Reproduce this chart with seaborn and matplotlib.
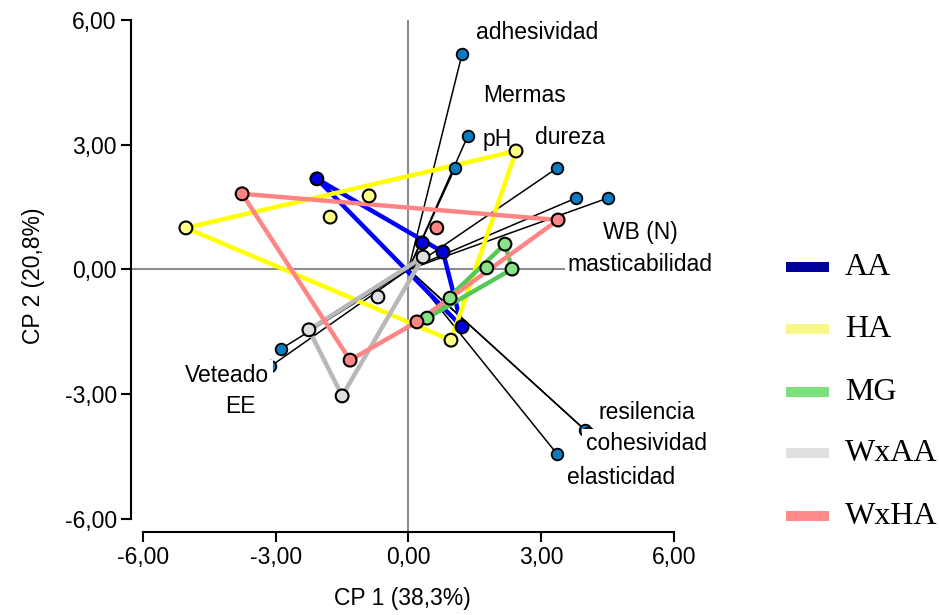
import numpy as np
import pandas as pd
import matplotlib
matplotlib.use("Agg")
import matplotlib.pyplot as plt
from matplotlib.lines import Line2D
import seaborn as sns

# ---------------- data ----------------
groups = ["AA", "HA", "MG", "WxAA", "WxHA"]

aa_x = [-2.07, 0.31, 0.78, 1.21]
aa_y = [2.18, 0.64, 0.42, -1.38]
ha_x = [-5.03, 2.43, 0.96, -1.77, -0.89]
ha_y = [1.00, 2.85, -1.70, 1.26, 1.77]
mg_x = [2.18, 2.34, 1.77, 0.94, 0.42]
mg_y = [0.61, 0.01, 0.04, -0.69, -1.17]
wxaa_x = [0.33, -2.25, -1.50, -0.69]
wxaa_y = [0.30, -1.45, -3.04, -0.66]
wxha_x = [-3.76, 3.38, -1.32, 0.64, 0.19]
wxha_y = [1.82, 1.19, -2.18, 1.00, -1.26]

var_names = ["adhesividad", "Mermas", "pH", "dureza", "WB (N)", "masticabilidad",
             "resilencia", "cohesividad", "elasticidad", "Veteado", "EE"]
var_x = [1.21, 1.34, 1.05, 3.36, 3.79, 4.51, 3.99, 4.06, 3.36, -2.88, -3.12]
var_y = [5.18, 3.21, 2.44, 2.44, 1.72, 1.72, -3.86, -3.93, -4.44, -1.91, -2.33]

tick_values = [-6, -3, 0, 3, 6]
tick_labels = ["-6,00", "-3,00", "0,00", "3,00", "6,00"]
x_title = "CP 1 (38,3%)"
y_title = "CP 2 (20,8%)"

# ---------------- layout / style ----------------
label_pos = {
    "adhesividad": (2.90, 5.71), "Mermas": (2.63, 4.19), "pH": (2.00, 3.13),
    "dureza": (3.65, 3.18), "WB (N)": (5.23, 0.88), "masticabilidad": (5.23, 0.11),
    "resilencia": (5.39, -3.45), "cohesividad": (5.37, -4.19),
    "elasticidad": (4.80, -5.00), "Veteado": (-4.10, -2.54), "EE": (-3.81, -3.30),
}
label_pad = {"Veteado": 2.5, "cohesividad": 2.5, "masticabilidad": 1.5}
line_colors = {"AA": "#0000ff", "HA": "#ffff00", "MG": "#55c855",
               "WxAA": "#b8b8b8", "WxHA": "#ff8484"}
fill_colors = {"AA": "#0000e0", "HA": "#ffff88", "MG": "#88e288",
               "WxAA": "#e0e0e0", "WxHA": "#ff8484"}
legend_colors = {"AA": "#00009c", "HA": "#f7f78a", "MG": "#7be27b",
                 "WxAA": "#e0e0e0", "WxHA": "#ff8a8a"}
loading_color = "#0a7bc0"

sns.set_style("ticks")
plt.rcParams["font.family"] = ["Liberation Sans", "DejaVu Sans"]
plt.rcParams["text.color"] = "black"
plt.rcParams["axes.labelcolor"] = "black"
plt.rcParams["xtick.color"] = "black"
plt.rcParams["ytick.color"] = "black"

group_x = [aa_x, ha_x, mg_x, wxaa_x, wxha_x]
group_y = [aa_y, ha_y, mg_y, wxaa_y, wxha_y]

pts = pd.DataFrame({
    "x": np.concatenate(group_x),
    "y": np.concatenate(group_y),
    "group": np.repeat(groups, [len(v) for v in group_x]),
})


def convex_hull(xs, ys):
    p = sorted(zip(xs, ys))

    def cross(o, a, b):
        return (a[0] - o[0]) * (b[1] - o[1]) - (a[1] - o[1]) * (b[0] - o[0])

    lower, upper = [], []
    for q in p:
        while len(lower) >= 2 and cross(lower[-2], lower[-1], q) <= 0:
            lower.pop()
        lower.append(q)
    for q in reversed(p):
        while len(upper) >= 2 and cross(upper[-2], upper[-1], q) <= 0:
            upper.pop()
        upper.append(q)
    h = lower[:-1] + upper[:-1]
    return h + [h[0]]


hull_rows = []
for g, gx, gy in zip(groups, group_x, group_y):
    for i, (hx, hy) in enumerate(convex_hull(gx, gy)):
        hull_rows.append({"x": hx, "y": hy, "group": g, "order": i})
hull = pd.DataFrame(hull_rows)

seg_rows = []
for n, vx, vy in zip(var_names, var_x, var_y):
    seg_rows.append({"x": 0.0, "y": 0.0, "var": n})
    seg_rows.append({"x": vx, "y": vy, "var": n})
segs = pd.DataFrame(seg_rows)
loads = pd.DataFrame({"x": var_x, "y": var_y, "var": var_names})

W, H = 939, 615
fig = plt.figure(figsize=(W / 100, H / 100), dpi=100)
ax = fig.add_axes([131 / W, 83 / H, 543 / W, 512 / H])

ax.axhline(0, color="#8c8c8c", lw=1.5, zorder=1)
ax.axvline(0, color="#8c8c8c", lw=1.5, zorder=1)

# loading vectors
sns.lineplot(data=segs, x="x", y="y", units="var", estimator=None, sort=False,
             color="black", lw=1.1, ax=ax, legend=False, zorder=2)

# group hulls
for g in groups:
    sns.lineplot(data=hull[hull.group == g], x="x", y="y", estimator=None,
                 sort=False, color=line_colors[g], lw=3.2, ax=ax,
                 legend=False, zorder=3)

# loading points
sns.scatterplot(data=loads, x="x", y="y", color=loading_color, s=70,
                edgecolor="black", linewidth=1.3, ax=ax, legend=False,
                zorder=4, clip_on=False)

# group points
sns.scatterplot(data=pts, x="x", y="y", hue="group", palette=fill_colors,
                s=85, edgecolor="black", linewidth=1.5, ax=ax, legend=False,
                zorder=4, clip_on=False)

for n in var_names:
    lx, ly = label_pos[n]
    kw = {}
    if n in label_pad:
        kw["bbox"] = dict(facecolor="white", edgecolor="none", pad=label_pad[n])
    ax.text(lx, ly, n, ha="center", va="center", fontsize=16.5, zorder=6, **kw)

ax.set_xlim(-6.271, 6)
ax.set_ylim(-6.313, 6)
ax.set_xticks(tick_values)
ax.set_xticklabels(tick_labels)
ax.set_yticks(tick_values)
ax.set_yticklabels(tick_labels)
ax.tick_params(axis="both", labelsize=16.5, length=7.2, width=1.5,
               color="black", labelcolor="black", pad=3)
for side in ["top", "right"]:
    ax.spines[side].set_visible(False)
for side in ["left", "bottom"]:
    ax.spines[side].set_linewidth(1.5)
    ax.spines[side].set_color("black")
    ax.spines[side].set_bounds(-6, 6)
ax.set_xlabel(x_title, fontsize=16.5, labelpad=13, color="black")
ax.set_ylabel(y_title, fontsize=16.5, labelpad=14, color="black")
ax.patch.set_alpha(0)

# legend
leg_y = [267, 329, 392, 453, 516]
for g, yy in zip(groups, leg_y):
    fig.add_artist(Line2D([786 / W, 829 / W], [1 - yy / H, 1 - yy / H],
                          lw=7.2, color=legend_colors[g],
                          solid_capstyle="butt"))
    fig.text(845 / W, 1 - (yy + 8) / H, g, ha="left", va="baseline",
             fontsize=23, color="black",
             family=["Liberation Serif", "DejaVu Serif"])

fig.savefig("out.png", dpi=100)
